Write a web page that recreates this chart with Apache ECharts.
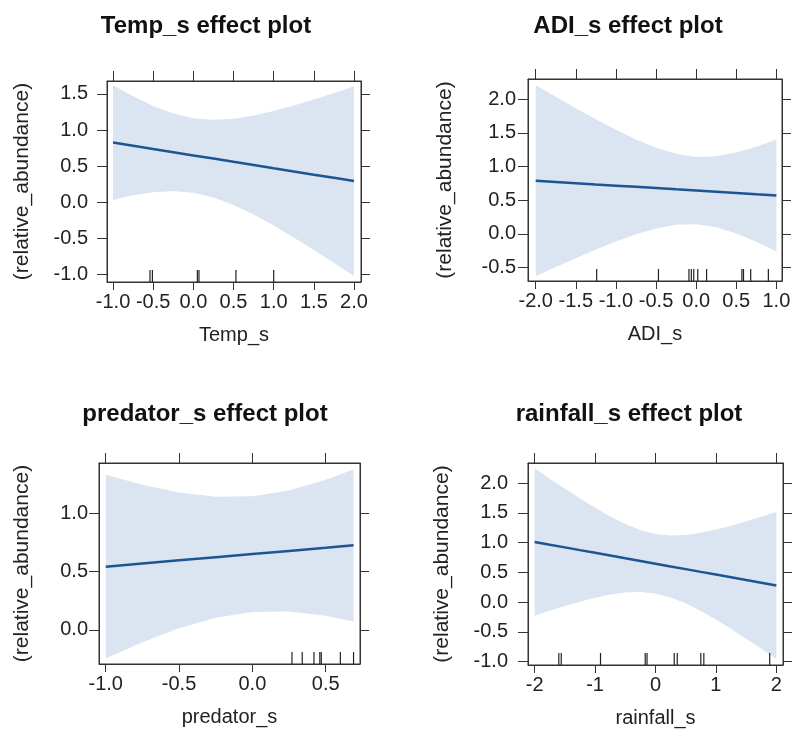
<!DOCTYPE html>
<html>
<head>
<meta charset="utf-8">
<script src="https://cdn.jsdelivr.net/npm/echarts@6/dist/echarts.min.js"></script>
<style>
html, body { margin: 0; padding: 0; background: #fff; }
#chart { width: 796px; height: 745px; }
</style>
</head>
<body>
<div id="chart"></div>
<script>
// Temp_s: fitted line and band
const tempX = [-1, -0.75, -0.5, -0.25, 0, 0.25, 0.5, 0.75, 1, 1.25, 1.5, 1.75, 2]
const tempFit = [0.826, 0.782, 0.737, 0.693, 0.648, 0.604, 0.559, 0.515, 0.470, 0.426, 0.381, 0.337, 0.292]
const tempLower = [0.031, 0.095, 0.139, 0.155, 0.132, 0.066, -0.039, -0.172, -0.325, -0.490, -0.663, -0.841, -1.023]
const tempUpper = [1.621, 1.469, 1.335, 1.230, 1.164, 1.141, 1.157, 1.202, 1.265, 1.341, 1.425, 1.515, 1.607]
const tempRug = [-0.54, -0.51, 0.05, 0.07, 0.53, 1.0]
const tempXTicks = [-1, -0.5, 0, 0.5, 1, 1.5, 2]
const tempYTicks = [-1, -0.5, 0, 0.5, 1, 1.5]

// ADI_s
const adiX = [-2, -1.75, -1.5, -1.25, -1, -0.75, -0.5, -0.25, 0, 0.25, 0.5, 0.75, 1]
const adiFit = [0.789, 0.771, 0.753, 0.734, 0.716, 0.698, 0.680, 0.661, 0.643, 0.625, 0.607, 0.588, 0.570]
const adiLower = [-0.629, -0.493, -0.361, -0.234, -0.115, -0.007, 0.080, 0.134, 0.143, 0.098, 0.007, -0.117, -0.261]
const adiUpper = [2.207, 2.035, 1.866, 1.702, 1.547, 1.403, 1.280, 1.188, 1.143, 1.152, 1.207, 1.293, 1.401]
const adiRug = [-1.24, -0.47, -0.09, -0.06, -0.03, 0.02, 0.13, 0.57, 0.59, 0.68, 0.90]
const adiXTicks = [-2, -1.5, -1, -0.5, 0, 0.5, 1]
const adiYTicks = [-0.5, 0, 0.5, 1, 1.5, 2]

// predator_s
const predX = [-1, -0.75, -0.5, -0.25, 0, 0.25, 0.5, 0.69]
const predFit = [0.543, 0.570, 0.597, 0.624, 0.651, 0.678, 0.705, 0.726]
const predLower = [-0.247, -0.108, 0.013, 0.104, 0.154, 0.158, 0.121, 0.072]
const predUpper = [1.333, 1.248, 1.181, 1.144, 1.148, 1.198, 1.289, 1.379]
const predRug = [0.27, 0.34, 0.42, 0.46, 0.47, 0.60, 0.69]
const predXTicks = [-1, -0.5, 0, 0.5]
const predYTicks = [0, 0.5, 1]

// rainfall_s
const rainX = [-2, -1.75, -1.5, -1.25, -1, -0.75, -0.5, -0.25, 0, 0.25, 0.5, 0.75, 1, 1.25, 1.5, 1.75, 2]
const rainFit = [1.010, 0.964, 0.919, 0.873, 0.828, 0.782, 0.736, 0.691, 0.645, 0.599, 0.554, 0.508, 0.463, 0.417, 0.371, 0.326, 0.280]
const rainLower = [-0.227, -0.145, -0.066, 0.007, 0.073, 0.126, 0.162, 0.171, 0.145, 0.079, -0.021, -0.148, -0.292, -0.449, -0.614, -0.783, -0.957]
const rainUpper = [2.247, 2.073, 1.904, 1.739, 1.583, 1.438, 1.311, 1.211, 1.145, 1.119, 1.128, 1.164, 1.218, 1.283, 1.356, 1.435, 1.517]
const rainRug = [-1.60, -1.56, -0.91, -0.17, -0.14, 0.31, 0.36, 0.75, 0.80, 1.89]
const rainXTicks = [-2, -1, 0, 1, 2]
const rainYTicks = [-1, -0.5, 0, 0.5, 1, 1.5, 2]

const FONT = 'Liberation Sans, Arial, sans-serif'
const BAND = '#dae5f1'
const LINE = '#1d5592'
const INK = '#333'

const panels = [
  { title: 'Temp_s effect plot', name: 'Temp_s', x: tempX, fit: tempFit, lo: tempLower, hi: tempUpper,
    rug: tempRug, xTicks: tempXTicks, yTicks: tempYTicks, digits: 1,
    grid: { left: 107, top: 81, width: 254, height: 201 }, xRange: [-1.075, 2.087], yRange: [-1.107, 1.68],
    titleX: 201, titleY: 9, labelMargin: 19, yNameGap: 74 },
  { title: 'ADI_s effect plot', name: 'ADI_s', x: adiX, fit: adiFit, lo: adiLower, hi: adiUpper,
    rug: adiRug, xTicks: adiXTicks, yTicks: adiYTicks, digits: 1,
    grid: { left: 528, top: 79, width: 254, height: 202 }, xRange: [-2.096, 1.07], yRange: [-0.70, 2.30],
    titleX: 623, titleY: 9, labelMargin: 12, yNameGap: 72 },
  { title: 'predator_s effect plot', name: 'predator_s', x: predX, fit: predFit, lo: predLower, hi: predUpper,
    rug: predRug, xTicks: predXTicks, yTicks: predYTicks, digits: 1,
    grid: { left: 99, top: 463, width: 261, height: 201 }, xRange: [-1.046, 0.734], yRange: [-0.294, 1.434],
    titleX: 200, titleY: 397, labelMargin: 11, yNameGap: 66 },
  { title: 'rainfall_s effect plot', name: 'rainfall_s', x: rainX, fit: rainFit, lo: rainLower, hi: rainUpper,
    rug: rainRug, xTicks: rainXTicks, yTicks: rainYTicks, digits: 0,
    grid: { left: 528, top: 463, width: 255, height: 202 }, xRange: [-2.11, 2.11], yRange: [-1.056, 2.336],
    titleX: 624, titleY: 397, labelMargin: 20, yNameGap: 75 }
]

const titles = []
const grids = []
const xAxes = []
const yAxes = []
const series = []

panels.forEach((p, i) => {
  titles.push({
    text: p.title, left: p.titleX, top: p.titleY, textAlign: 'center',
    textStyle: { fontFamily: FONT, fontSize: 24, fontWeight: 'bold', color: '#111' }
  })
  grids.push({ ...p.grid, show: true, borderColor: INK, borderWidth: 1, backgroundColor: '#fff' })

  const line = { show: true, onZero: false, lineStyle: { color: INK, width: 1 } }
  const fmt = (v) => v.toFixed(p.digits)
  xAxes.push({
    type: 'value', gridIndex: i, position: 'bottom', min: p.xRange[0], max: p.xRange[1],
    axisLine: line, splitLine: { show: false },
    axisTick: { show: true, length: 8, customValues: p.xTicks, lineStyle: { color: INK } },
    axisLabel: { customValues: p.xTicks, formatter: fmt, margin: 10, fontFamily: FONT, fontSize: 20, color: '#222' },
    name: p.name, nameLocation: 'middle', nameGap: 43,
    nameTextStyle: { fontFamily: FONT, fontSize: 20, color: '#222' }
  })
  xAxes.push({
    type: 'value', gridIndex: i, position: 'top', min: p.xRange[0], max: p.xRange[1],
    axisLine: line, splitLine: { show: false },
    axisTick: { show: true, length: 10, customValues: p.xTicks, lineStyle: { color: INK } },
    axisLabel: { show: false }
  })
  yAxes.push({
    type: 'value', gridIndex: i, position: 'left', min: p.yRange[0], max: p.yRange[1],
    axisLine: line, splitLine: { show: false },
    axisTick: { show: true, length: 10, customValues: p.yTicks, lineStyle: { color: INK } },
    axisLabel: { customValues: p.yTicks, formatter: (v) => v.toFixed(1), margin: p.labelMargin, fontFamily: FONT, fontSize: 20, color: '#222' },
    name: '(relative_abundance)', nameLocation: 'middle', nameGap: p.yNameGap,
    nameTextStyle: { fontFamily: FONT, fontSize: 21, color: '#222' }
  })
  yAxes.push({
    type: 'value', gridIndex: i, position: 'right', min: p.yRange[0], max: p.yRange[1],
    axisLine: line, splitLine: { show: false },
    axisTick: { show: true, length: 9, customValues: p.yTicks, lineStyle: { color: INK } },
    axisLabel: { show: false }
  })

  const ax = { xAxisIndex: 2 * i, yAxisIndex: 2 * i }
  // confidence band as one polygon
  series.push({
    type: 'custom', ...ax, silent: true, z: 1,
    data: [[p.x[0], p.fit[0]]],
    renderItem: (params, api) => {
      const upper = p.x.map((x, k) => api.coord([x, p.hi[k]]))
      const lower = p.x.map((x, k) => api.coord([x, p.lo[k]])).reverse()
      return { type: 'polygon', shape: { points: upper.concat(lower) }, style: { fill: BAND } }
    }
  })
  series.push({
    type: 'line', ...ax, silent: true, z: 3, symbol: 'none',
    data: p.x.map((x, k) => [x, p.fit[k]]),
    lineStyle: { color: LINE, width: 2.5 }
  })
  // rug marks along the bottom edge
  series.push({
    type: 'custom', ...ax, silent: true, z: 4,
    data: p.rug.map((v) => [v, p.yRange[0]]),
    renderItem: (params, api) => {
      const pt = api.coord([api.value(0), api.value(1)])
      return {
        type: 'line',
        shape: { x1: pt[0], y1: pt[1], x2: pt[0], y2: pt[1] - 12 },
        style: { stroke: '#222', lineWidth: 1.2 }
      }
    }
  })
})

const chart = echarts.init(document.getElementById('chart'))
chart.setOption({
  animation: false,
  backgroundColor: '#fff',
  title: titles,
  grid: grids,
  xAxis: xAxes,
  yAxis: yAxes,
  series: series
})
</script>
</body>
</html>
